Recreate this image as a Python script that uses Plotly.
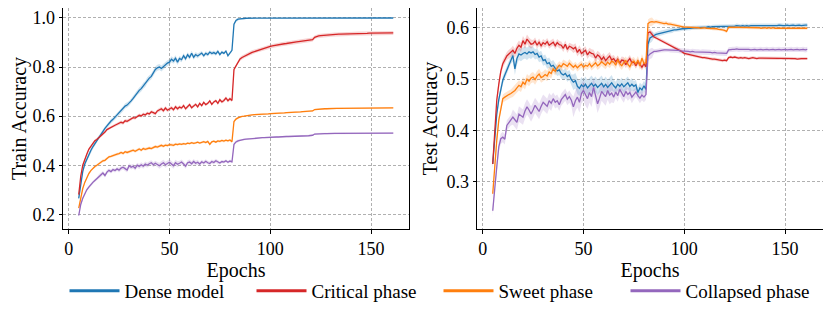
import numpy as np
import plotly.graph_objects as go

epochs = list(range(5, 162))

# ---------------- Train accuracy ----------------
dense_train = [
    0.265, 0.33, 0.375, 0.405, 0.425, 0.445, 0.46, 0.475, 0.488, 0.50,
    0.515, 0.528, 0.54, 0.55, 0.56, 0.572, 0.58, 0.587, 0.596, 0.602,
    0.612, 0.622, 0.63, 0.641, 0.645, 0.652, 0.662, 0.672, 0.684, 0.695,
    0.705, 0.712, 0.724, 0.731, 0.746, 0.755, 0.762, 0.776, 0.79, 0.797,
    0.80, 0.794, 0.802, 0.81, 0.816, 0.82, 0.832, 0.825, 0.836, 0.82,
    0.835, 0.83, 0.846, 0.834, 0.85, 0.84, 0.856, 0.84, 0.851, 0.845,
    0.852, 0.857, 0.846, 0.856, 0.851, 0.861, 0.855, 0.859, 0.854, 0.864,
    0.851, 0.861, 0.856, 0.865, 0.846, 0.858, 0.868, 0.975, 0.99, 0.995,
    0.997, 0.998, 0.998, 0.999, 0.999, 0.999, 0.999, 0.999, 0.999, 0.999,
    1.0, 1.0, 1.0, 1.0, 1.0, 1.0, 1.0, 1.0, 1.0, 1.0,
    1.0, 1.0, 1.0, 1.0, 1.0, 1.0, 1.0, 1.0, 1.0, 1.0,
    1.0, 1.0, 1.0, 1.0, 1.0, 1.0, 1.0, 1.0, 1.0, 1.0,
    1.0, 1.0, 1.0, 1.0, 1.0, 1.0, 1.0, 1.0, 1.0, 1.0,
    1.0, 1.0, 1.0, 1.0, 1.0, 1.0, 1.0, 1.0, 1.0, 1.0,
    1.0, 1.0, 1.0, 1.0, 1.0, 1.0, 1.0, 1.0, 1.0, 1.0,
    1.0, 1.0, 1.0, 1.0, 1.0, 1.0, 1.0,
]
critical_train = [
    0.28, 0.355, 0.40, 0.425, 0.445, 0.465, 0.478, 0.49, 0.50, 0.505,
    0.512, 0.52, 0.528, 0.535, 0.545, 0.55, 0.556, 0.56, 0.563, 0.567,
    0.57, 0.575, 0.572, 0.581, 0.579, 0.584, 0.588, 0.594, 0.592, 0.60,
    0.604, 0.601, 0.608, 0.605, 0.612, 0.609, 0.618, 0.614, 0.61, 0.621,
    0.625, 0.63, 0.622, 0.633, 0.624, 0.63, 0.634, 0.626, 0.638, 0.63,
    0.637, 0.633, 0.643, 0.63, 0.637, 0.647, 0.634, 0.643, 0.648, 0.638,
    0.652, 0.643, 0.656, 0.647, 0.652, 0.662, 0.648, 0.658, 0.663, 0.652,
    0.667, 0.658, 0.664, 0.674, 0.663, 0.671, 0.664, 0.79, 0.806, 0.82,
    0.833, 0.839, 0.844, 0.848, 0.852, 0.856, 0.86, 0.863, 0.866, 0.869,
    0.872, 0.874, 0.877, 0.879, 0.881, 0.884, 0.886, 0.888, 0.889, 0.891,
    0.892, 0.894, 0.895, 0.896, 0.898, 0.899, 0.90, 0.902, 0.903, 0.904,
    0.905, 0.906, 0.907, 0.908, 0.909, 0.91, 0.912, 0.921, 0.925, 0.927,
    0.928, 0.929, 0.93, 0.93, 0.931, 0.932, 0.932, 0.933, 0.933, 0.934,
    0.934, 0.934, 0.935, 0.935, 0.935, 0.936, 0.936, 0.936, 0.936, 0.937,
    0.937, 0.937, 0.937, 0.937, 0.938, 0.938, 0.938, 0.938, 0.938, 0.938,
    0.938, 0.938, 0.939, 0.939, 0.939, 0.939, 0.939,
]
sweet_train = [
    0.225, 0.27, 0.305, 0.33, 0.35, 0.366, 0.378, 0.388, 0.395, 0.40,
    0.406, 0.412, 0.418, 0.42, 0.428, 0.434, 0.436, 0.44, 0.442, 0.445,
    0.447, 0.452, 0.448, 0.455, 0.452, 0.456, 0.458, 0.461, 0.457, 0.463,
    0.466, 0.461, 0.468, 0.465, 0.467, 0.47, 0.468, 0.473, 0.476, 0.474,
    0.478, 0.481, 0.477, 0.482, 0.48, 0.484, 0.483, 0.481, 0.486, 0.484,
    0.487, 0.485, 0.488, 0.486, 0.49, 0.488, 0.492, 0.489, 0.491, 0.494,
    0.49, 0.493, 0.496, 0.492, 0.497, 0.485, 0.495, 0.498, 0.494, 0.499,
    0.497, 0.501, 0.498, 0.502, 0.499, 0.503, 0.496, 0.578, 0.588, 0.593,
    0.597, 0.599, 0.60, 0.602, 0.603, 0.604, 0.605, 0.606, 0.606, 0.607,
    0.607, 0.608, 0.608, 0.609, 0.609, 0.61, 0.61, 0.611, 0.611, 0.612,
    0.612, 0.613, 0.613, 0.614, 0.614, 0.615, 0.615, 0.616, 0.616, 0.617,
    0.617, 0.618, 0.618, 0.619, 0.619, 0.62, 0.621, 0.627, 0.628, 0.629,
    0.629, 0.63, 0.63, 0.63, 0.631, 0.631, 0.631, 0.632, 0.632, 0.632,
    0.632, 0.632, 0.633, 0.633, 0.633, 0.633, 0.633, 0.633, 0.634, 0.634,
    0.634, 0.634, 0.634, 0.634, 0.634, 0.634, 0.634, 0.634, 0.634, 0.634,
    0.634, 0.634, 0.634, 0.634, 0.634, 0.634, 0.634,
]
collapsed_train = [
    0.195, 0.24, 0.265, 0.285, 0.30, 0.311, 0.322, 0.33, 0.338, 0.345,
    0.355, 0.36, 0.368, 0.358, 0.372, 0.379, 0.374, 0.382, 0.378, 0.385,
    0.38, 0.388, 0.392, 0.386, 0.38, 0.398, 0.392, 0.396, 0.388, 0.40,
    0.395, 0.402, 0.396, 0.405, 0.40, 0.406, 0.41, 0.402, 0.408, 0.403,
    0.398, 0.405, 0.41, 0.402, 0.407, 0.412, 0.405, 0.398, 0.41, 0.404,
    0.408, 0.413, 0.405, 0.396, 0.41, 0.413, 0.406, 0.415, 0.408, 0.412,
    0.405, 0.414, 0.409, 0.416, 0.41, 0.407, 0.415, 0.411, 0.418, 0.412,
    0.409, 0.415, 0.413, 0.418, 0.412, 0.417, 0.414, 0.485, 0.495, 0.499,
    0.502, 0.504, 0.505, 0.506, 0.507, 0.508, 0.509, 0.51, 0.51, 0.511,
    0.511, 0.512, 0.512, 0.513, 0.513, 0.514, 0.514, 0.515, 0.515, 0.515,
    0.516, 0.516, 0.516, 0.517, 0.517, 0.517, 0.518, 0.518, 0.518, 0.519,
    0.519, 0.519, 0.52, 0.52, 0.52, 0.521, 0.522, 0.527, 0.528, 0.528,
    0.529, 0.529, 0.529, 0.529, 0.53, 0.53, 0.53, 0.53, 0.53, 0.53,
    0.53, 0.53, 0.53, 0.53, 0.53, 0.531, 0.531, 0.531, 0.531, 0.531,
    0.531, 0.531, 0.531, 0.531, 0.531, 0.531, 0.531, 0.531, 0.531, 0.531,
    0.531, 0.531, 0.531, 0.531, 0.531, 0.531, 0.531,
]

# ---------------- Test accuracy ----------------
dense_test = [
    0.335, 0.38, 0.432, 0.46, 0.48, 0.498, 0.508, 0.517, 0.528, 0.538,
    0.546, 0.52, 0.54, 0.549, 0.547, 0.55, 0.552, 0.549, 0.553, 0.551,
    0.553, 0.548, 0.55, 0.543, 0.545, 0.536, 0.538, 0.53, 0.532, 0.525,
    0.527, 0.521, 0.516, 0.518, 0.511, 0.508, 0.511, 0.505, 0.508, 0.499,
    0.494, 0.497, 0.486, 0.482, 0.489, 0.485, 0.49, 0.483, 0.488, 0.492,
    0.486, 0.49, 0.484, 0.489, 0.492, 0.485, 0.49, 0.484, 0.488, 0.493,
    0.487, 0.483, 0.49, 0.486, 0.491, 0.485, 0.489, 0.493, 0.486, 0.49,
    0.486, 0.489, 0.474, 0.483, 0.479, 0.487, 0.48, 0.568, 0.58, 0.583,
    0.585, 0.587, 0.588, 0.589, 0.59, 0.592, 0.593, 0.594, 0.595, 0.595,
    0.596, 0.596, 0.597, 0.597, 0.598, 0.598, 0.599, 0.599, 0.599, 0.60,
    0.60, 0.60, 0.60, 0.601, 0.601, 0.601, 0.601, 0.602, 0.601, 0.602,
    0.602, 0.602, 0.603, 0.602, 0.603, 0.603, 0.603, 0.602, 0.603, 0.603,
    0.603, 0.604, 0.603, 0.603, 0.604, 0.603, 0.604, 0.603, 0.604, 0.604,
    0.604, 0.603, 0.604, 0.604, 0.603, 0.604, 0.604, 0.604, 0.603, 0.604,
    0.604, 0.604, 0.605, 0.604, 0.604, 0.604, 0.605, 0.604, 0.605, 0.605,
    0.604, 0.605, 0.605, 0.604, 0.605, 0.605, 0.605,
]
critical_test = [
    0.335, 0.40, 0.459, 0.49, 0.515, 0.53, 0.538, 0.545, 0.549, 0.552,
    0.556, 0.55, 0.56, 0.566, 0.562, 0.575, 0.568, 0.578, 0.572, 0.568,
    0.569, 0.574, 0.566, 0.572, 0.565, 0.571, 0.568, 0.573, 0.566, 0.57,
    0.572, 0.565, 0.571, 0.567, 0.566, 0.56, 0.568, 0.558, 0.564, 0.562,
    0.559, 0.562, 0.552, 0.558, 0.55, 0.553, 0.556, 0.547, 0.553, 0.55,
    0.549, 0.541, 0.547, 0.544, 0.538, 0.543, 0.536, 0.541, 0.545, 0.537,
    0.54, 0.534, 0.539, 0.531, 0.537, 0.536, 0.528, 0.535, 0.54, 0.532,
    0.533, 0.526, 0.534, 0.529, 0.523, 0.53, 0.524, 0.59, 0.592, 0.587,
    0.582, 0.58, 0.578, 0.576, 0.574, 0.572, 0.57, 0.568, 0.566, 0.564,
    0.562, 0.56, 0.558, 0.556, 0.553, 0.55, 0.549, 0.548, 0.547, 0.546,
    0.545, 0.544, 0.543, 0.543, 0.542, 0.542, 0.541, 0.54, 0.54, 0.539,
    0.539, 0.538, 0.538, 0.537, 0.536, 0.537, 0.536, 0.542, 0.543, 0.542,
    0.543, 0.542, 0.541, 0.542, 0.541, 0.542, 0.541, 0.54, 0.541, 0.542,
    0.541, 0.54, 0.541, 0.541, 0.54, 0.541, 0.54, 0.541, 0.54, 0.54,
    0.541, 0.54, 0.54, 0.541, 0.54, 0.54, 0.54, 0.541, 0.54, 0.54,
    0.54, 0.539, 0.54, 0.54, 0.54, 0.54, 0.54,
]
sweet_test = [
    0.277, 0.335, 0.381, 0.42, 0.445, 0.462, 0.465, 0.468, 0.47, 0.472,
    0.475, 0.478, 0.483, 0.488, 0.485, 0.494, 0.49, 0.50, 0.496, 0.502,
    0.504, 0.499, 0.506, 0.51, 0.503, 0.505, 0.509, 0.506, 0.514, 0.511,
    0.52, 0.515, 0.522, 0.527, 0.524, 0.53, 0.528, 0.525, 0.531, 0.526,
    0.523, 0.527, 0.522, 0.526, 0.529, 0.523, 0.527, 0.525, 0.53, 0.524,
    0.528, 0.532, 0.526, 0.529, 0.534, 0.53, 0.527, 0.533, 0.529, 0.535,
    0.533, 0.527, 0.538, 0.53, 0.526, 0.532, 0.536, 0.529, 0.524, 0.533,
    0.535, 0.529, 0.537, 0.526, 0.541, 0.53, 0.532, 0.608, 0.611, 0.612,
    0.611, 0.612, 0.611, 0.61, 0.61, 0.608, 0.609, 0.607, 0.607, 0.606,
    0.605, 0.604, 0.604, 0.603, 0.602, 0.601, 0.601, 0.601, 0.60, 0.60,
    0.60, 0.60, 0.60, 0.599, 0.60, 0.60, 0.599, 0.599, 0.599, 0.598,
    0.598, 0.598, 0.597, 0.597, 0.596, 0.595, 0.593, 0.601, 0.601, 0.60,
    0.60, 0.601, 0.60, 0.60, 0.60, 0.60, 0.601, 0.60, 0.60, 0.60,
    0.60, 0.60, 0.60, 0.599, 0.60, 0.60, 0.599, 0.60, 0.599, 0.60,
    0.599, 0.599, 0.60, 0.599, 0.599, 0.599, 0.60, 0.599, 0.599, 0.599,
    0.599, 0.599, 0.599, 0.599, 0.599, 0.599, 0.599,
]
collapsed_test = [
    0.244, 0.296, 0.329, 0.368, 0.384, 0.387, 0.383, 0.41, 0.416, 0.42,
    0.426, 0.421, 0.416, 0.432, 0.429, 0.426, 0.438, 0.446, 0.44, 0.432,
    0.44, 0.449, 0.443, 0.437, 0.447, 0.455, 0.451, 0.447, 0.458, 0.453,
    0.462, 0.455, 0.458, 0.45, 0.46, 0.465, 0.47, 0.461, 0.466, 0.459,
    0.446, 0.458, 0.465, 0.455, 0.472, 0.478, 0.468, 0.462, 0.474, 0.466,
    0.484, 0.47, 0.452, 0.463, 0.476, 0.471, 0.466, 0.478, 0.469, 0.473,
    0.465, 0.475, 0.468, 0.48, 0.472, 0.466, 0.476, 0.47, 0.474, 0.465,
    0.47, 0.475, 0.468, 0.463, 0.469, 0.465, 0.47, 0.545, 0.549, 0.551,
    0.554, 0.554, 0.555, 0.556, 0.556, 0.557, 0.557, 0.557, 0.556, 0.556,
    0.557, 0.556, 0.556, 0.555, 0.555, 0.554, 0.554, 0.554, 0.553, 0.554,
    0.553, 0.553, 0.553, 0.552, 0.553, 0.553, 0.552, 0.552, 0.552, 0.551,
    0.552, 0.551, 0.551, 0.551, 0.551, 0.55, 0.55, 0.557, 0.558, 0.558,
    0.558, 0.559, 0.558, 0.558, 0.559, 0.558, 0.558, 0.558, 0.557, 0.558,
    0.558, 0.557, 0.558, 0.558, 0.557, 0.558, 0.558, 0.557, 0.558, 0.558,
    0.557, 0.558, 0.558, 0.557, 0.558, 0.558, 0.557, 0.558, 0.558, 0.557,
    0.558, 0.558, 0.557, 0.558, 0.558, 0.557, 0.558,
]

# std per 10-epoch block (5-14, 15-24, ..., 145-154, 155-161)
block_sizes = [10] * 15 + [7]
dense_train_std = [0.01, 0.008, 0.01, 0.012, 0.012, 0.01, 0.008, 0.006, 0.001, 0.0005, 0.0005, 0.0005, 0.0005, 0.0005, 0.0005, 0.0005]
critical_train_std = [0.006, 0.006, 0.007, 0.007, 0.008, 0.007, 0.006, 0.007, 0.008, 0.008, 0.008, 0.008, 0.008, 0.008, 0.008, 0.008]
sweet_train_std = [0.005, 0.006, 0.006, 0.006, 0.006, 0.005, 0.005, 0.005, 0.003, 0.003, 0.003, 0.003, 0.003, 0.003, 0.003, 0.003]
collapsed_train_std = [0.006, 0.008, 0.01, 0.01, 0.012, 0.01, 0.008, 0.006, 0.003, 0.003, 0.003, 0.003, 0.003, 0.003, 0.003, 0.003]
dense_test_std = [0.008, 0.012, 0.01, 0.01, 0.015, 0.015, 0.012, 0.01, 0.005, 0.004, 0.004, 0.004, 0.004, 0.004, 0.004, 0.004]
critical_test_std = [0.008, 0.009, 0.007, 0.007, 0.008, 0.008, 0.007, 0.006, 0.004, 0.003, 0.003, 0.003, 0.003, 0.003, 0.003, 0.003]
sweet_test_std = [0.008, 0.01, 0.01, 0.008, 0.007, 0.008, 0.008, 0.008, 0.004, 0.003, 0.003, 0.003, 0.003, 0.003, 0.003, 0.003]
collapsed_test_std = [0.01, 0.015, 0.015, 0.012, 0.02, 0.018, 0.012, 0.01, 0.004, 0.005, 0.005, 0.005, 0.005, 0.005, 0.005, 0.005]

names = ["Dense model", "Critical phase", "Sweet phase", "Collapsed phase"]
colors = ["#1f77b4", "#d62728", "#ff7f0e", "#9467bd"]
fills = ["rgba(31,119,180,0.2)", "rgba(214,39,40,0.2)", "rgba(255,127,14,0.2)", "rgba(148,103,189,0.2)"]

train_series = [dense_train, critical_train, sweet_train, collapsed_train]
train_std = [dense_train_std, critical_train_std, sweet_train_std, collapsed_train_std]
test_series = [dense_test, critical_test, sweet_test, collapsed_test]
test_std = [dense_test_std, critical_test_std, sweet_test_std, collapsed_test_std]

for s in train_series + test_series:
    assert len(s) == len(epochs), len(s)

FONT = "'Liberation Serif', 'Times New Roman', Times, serif"
fig = go.Figure()

def add_panel(series, stds, xa, ya):
    for vals, sd, col, fc in zip(series, stds, colors, fills):
        v = np.array(vals)
        s = np.repeat(sd, block_sizes)
        up = (v + s).tolist()
        lo = (v - s).tolist()
        fig.add_trace(go.Scatter(x=epochs + epochs[::-1], y=up + lo[::-1], fill="toself",
                                 fillcolor=fc, line=dict(width=0), mode="lines",
                                 showlegend=False, hoverinfo="skip", xaxis=xa, yaxis=ya))
    for vals, col in zip(series, colors):
        fig.add_trace(go.Scatter(x=epochs, y=vals, mode="lines", line=dict(color=col, width=1.3),
                                 showlegend=False, xaxis=xa, yaxis=ya))

add_panel(train_series, train_std, "x", "y")
add_panel(test_series, test_std, "x2", "y2")

for n, c in zip(names, colors):
    fig.add_trace(go.Scatter(x=[None], y=[None], mode="lines", name=n,
                             line=dict(color=c, width=3), xaxis="x", yaxis="y"))

# page body has an 8px margin; figure occupies window pixels 8..831 x 8..318
OFF = 8
W, H = 831 - OFF, 318 - OFF
def px_x(v):
    return (v - OFF) / W
def px_y(v):
    return 1 - (v - OFF) / H

ydom = [px_y(229), 1.0]
axis_common = dict(showline=True, linecolor="#000", linewidth=1, mirror=True,
                   ticks="outside", ticklen=3.5, tickwidth=1, tickcolor="#000",
                   showgrid=True, gridcolor="#b0b0b0", gridwidth=0.8, griddash="3px,2px",
                   zeroline=False, automargin=False,
                   tickfont=dict(family=FONT, size=18, color="#000"))
TITLE_FONT = dict(family=FONT, size=20, color="#000")

fig.update_layout(
    width=W, height=H, margin=dict(l=0, r=0, t=0, b=0, autoexpand=False),
    paper_bgcolor="white", plot_bgcolor="white",
    font=dict(family=FONT, size=19, color="#000"),
    xaxis=dict(domain=[px_x(63), px_x(409)], range=[-2.8, 168.8], tickvals=[0, 50, 100, 150],
               title=dict(text="Epochs", font=TITLE_FONT, standoff=1), anchor="y", **axis_common),
    yaxis=dict(domain=ydom, range=[0.14, 1.0407], tickvals=[0.2, 0.4, 0.6, 0.8, 1.0], tickformat=".1f",
               title=dict(text="Train Accuracy", font=TITLE_FONT, standoff=3), anchor="x", **axis_common),
    xaxis2=dict(domain=[px_x(477), px_x(823)], range=[-2.8, 168.8], tickvals=[0, 50, 100, 150],
                title=dict(text="Epochs", font=TITLE_FONT, standoff=1), anchor="y2", **axis_common),
    yaxis2=dict(domain=ydom, range=[0.2084, 0.6384], tickvals=[0.3, 0.4, 0.5, 0.6], tickformat=".1f",
                title=dict(text="Test Accuracy", font=TITLE_FONT, standoff=3), anchor="x2", **axis_common),
    legend=dict(orientation="h", x=(69.5 - OFF - 5) / W, xanchor="left", y=px_y(291), yanchor="middle",
                font=dict(family=FONT, size=19, color="#000"), entrywidth=122, entrywidthmode="pixels",
                itemwidth=50, bgcolor="rgba(0,0,0,0)", tracegroupgap=0),
    showlegend=True,
)

fig.write_html("out.html")
